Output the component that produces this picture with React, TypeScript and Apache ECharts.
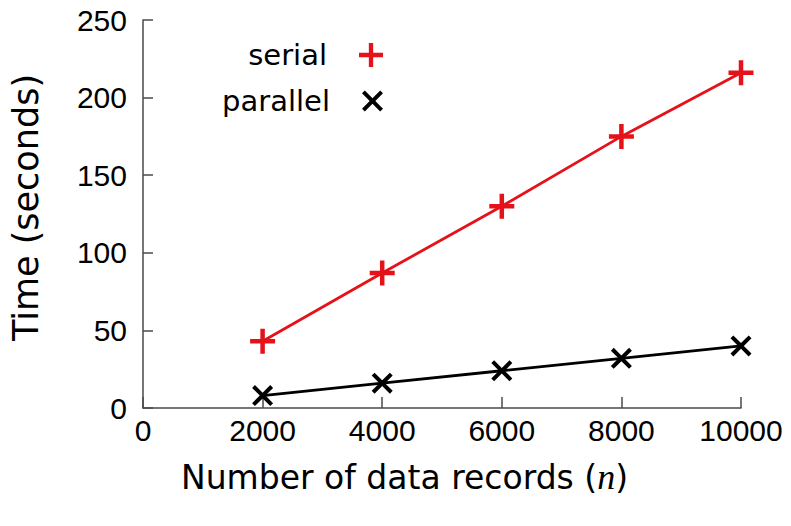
import React, { useEffect, useRef } from "react";
import * as echarts from "echarts";

const recordCounts = [2000, 4000, 6000, 8000, 10000];
const serialTimes = [43, 87, 130, 175, 216];
const parallelTimes = [8, 16, 24, 32, 40];
const seriesNames = ["serial", "parallel"];

const PLUS =
  "path://M8.2,0h3.6v8.2h8.2v3.6h-8.2v8.2h-3.6v-8.2h-8.2v-3.6h8.2z";
const CROSS =
  "path://M0,2.7L2.7,0L10,7.3L17.3,0L20,2.7L12.7,10L20,17.3L17.3,20L10,12.7L2.7,20L0,17.3L7.3,10Z";

const RED = "#e5121a";
const BLACK = "#000000";
const AXIS = "#4a4a4a";
const TICK_FONT = "Liberation Sans, Arial, sans-serif";
const TITLE_FONT = "DejaVu Sans, sans-serif";

export default function App() {
  const ref = useRef<HTMLDivElement>(null);
  useEffect(() => {
    if (!ref.current) return;
    const chart = echarts.init(ref.current, undefined, { renderer: "svg" });
    const legendBase = {
      orient: "vertical" as const,
      align: "right" as const,
      right: 403,
      itemWidth: 24,
      itemHeight: 24,
      textStyle: {
        fontFamily: TITLE_FONT,
        fontSize: 29,
        color: "#000",
        lineHeight: 30,
        padding: [0, 27, 0, 0],
      },
      selectedMode: false,
    };
    chart.setOption({
      animation: false,
      backgroundColor: "#ffffff",
      legend: [
        { ...legendBase, top: 35, data: [{ name: seriesNames[0], icon: PLUS }] },
        { ...legendBase, top: 81, itemWidth: 21, itemHeight: 21, data: [{ name: seriesNames[1], icon: CROSS }] },
      ],
      grid: { left: 141, right: 50, top: 20, bottom: 118, containLabel: false },
      xAxis: {
        type: "value",
        min: 0,
        max: 10000,
        interval: 2000,
        name: "{a|Number of data records (}{b|n}{a|)}",
        nameLocation: "middle",
        nameGap: 51,
        nameTextStyle: {
          padding: [0, 75, 0, 0],
          rich: {
            a: { fontFamily: TITLE_FONT, fontSize: 33, color: "#000" },
            b: { fontFamily: "Liberation Serif, serif", fontStyle: "italic", fontSize: 36, color: "#000" },
          },
        },
        axisLine: { show: true, lineStyle: { color: AXIS, width: 1.5 } },
        axisTick: { show: true, inside: true, length: 11, lineStyle: { color: AXIS, width: 1.5 } },
        axisLabel: {
          fontFamily: TICK_FONT,
          fontSize: 30,
          color: "#000",
          margin: 7,
          formatter: (v: number) => String(v),
        },
        splitLine: { show: false },
      },
      yAxis: {
        type: "value",
        min: 0,
        max: 250,
        interval: 50,
        name: "Time (seconds)",
        nameLocation: "middle",
        nameGap: 100,
        nameTextStyle: {
          fontFamily: TITLE_FONT,
          fontSize: 35,
          color: "#000",
          padding: [0, 0, 0, 13],
        },
        axisLine: { show: true, lineStyle: { color: AXIS, width: 1.5 } },
        axisTick: { show: true, inside: true, length: 10, lineStyle: { color: AXIS, width: 1.5 } },
        axisLabel: {
          fontFamily: TICK_FONT,
          fontSize: 30,
          color: "#000",
          margin: 16,
          formatter: (v: number) => String(v),
        },
        splitLine: { show: false },
      },
      series: [
        {
          name: seriesNames[0],
          type: "line",
          data: recordCounts.map((x, i) => [x, serialTimes[i]]),
          symbol: PLUS,
          symbolSize: 25,
          lineStyle: { color: RED, width: 2.8 },
          itemStyle: { color: RED },
        },
        {
          name: seriesNames[1],
          type: "line",
          data: recordCounts.map((x, i) => [x, parallelTimes[i]]),
          symbol: CROSS,
          symbolSize: 21,
          lineStyle: { color: BLACK, width: 2.8 },
          itemStyle: { color: BLACK },
        },
      ],
    });
    return () => chart.dispose();
  }, []);
  return <div ref={ref} style={{ width: 791, height: 526, margin: -8 }} />;
}
